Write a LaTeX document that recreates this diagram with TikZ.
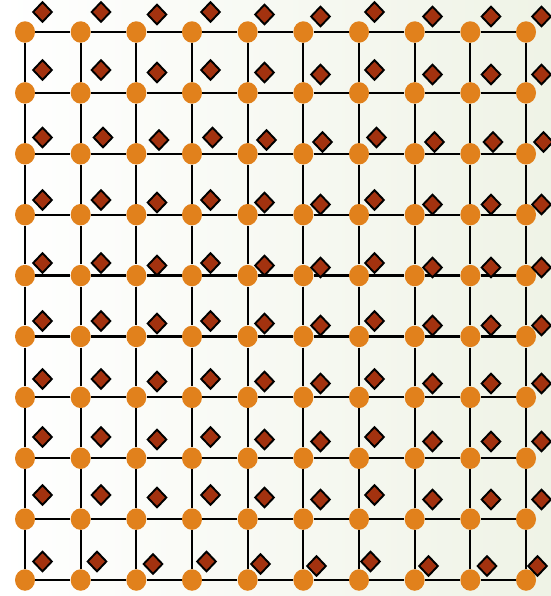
\documentclass[tikz,border=0pt]{standalone}
\usepackage{tikz}
\usetikzlibrary{shapes.geometric}
\definecolor{siteorange}{RGB}{225,129,28}
\definecolor{spinred}{RGB}{163,50,15}
\definecolor{bgright}{RGB}{239,243,230}

% diamond centres (pixels): per column x, per row y, small shifts
\newcommand{\diamx}{42.5,101,157,210.5,264.5,320.5,374.5,432.5,491,541.5}
\newcommand{\diamy}{12,70,137.5,200,263,321,379,437,495,561.5}
\newcommand{\shiftx}{0,0,2,0,0,0,0,0,0,-4}
\newcommand{\shifty}{0,0,2.5,0,2.5,4.5,0,4.5,4.5,4.5}

\begin{document}
\begin{tikzpicture}[
x=0.02cm, y=-0.02cm,
site/.style={ellipse, fill=siteorange, inner sep=0pt, minimum width=0.40cm, minimum height=0.43cm},
spin/.style={diamond, draw=black, fill=spinred, line width=0.038cm, inner sep=0pt, minimum width=0.39cm, minimum height=0.41cm},
bond/.style={line width=0.045cm, black}
]

% background
\shade[left color=white, right color=bgright] (0,0) rectangle (551,596);
\useasboundingbox (0,0) rectangle (551,596);

% lattice sites
\foreach \i in {0,...,9} {
  \foreach \j in {0,...,9} {
    \node[site] (n-\i-\j) at ({25+55.67*\i},{32+60.89*\j}) {};
  }
}

% bonds
\foreach \i in {0,...,8} {
  \foreach \j in {0,...,9} {
    \pgfmathtruncatemacro{\ii}{\i+1}
    \draw[bond] (n-\i-\j) -- (n-\ii-\j);
    \draw[bond] (n-\j-\i) -- (n-\j-\ii);
  }
}

% spins
\foreach \i in {0,...,9} {
  \foreach \j in {0,...,9} {
    \pgfmathsetmacro{\sx}{{\diamx}[\i]+{\shiftx}[\j]*(\i>0)}
    \pgfmathsetmacro{\sy}{{\diamy}[\j]+{\shifty}[\i]}
    \node[spin] (s-\i-\j) at (\sx,\sy) {};
  }
}

\end{tikzpicture}
\end{document}
